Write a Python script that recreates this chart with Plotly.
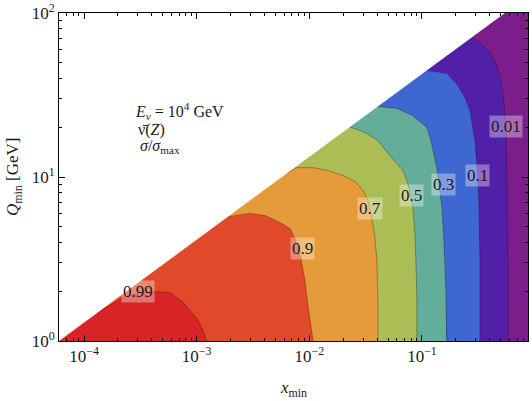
import math
import plotly.graph_objects as go

# Kinematic boundary (Q_max vs x)
boundary_x = [6.0e-5, 0.545]
boundary_q = [1.0, 100.0]

levels = [0.99, 0.9, 0.7, 0.5, 0.3, 0.1, 0.01]
level_labels = ["0.99", "0.9", "0.7", "0.5", "0.3", "0.1", "0.01"]

# contour lines, from the kinematic boundary down to Q=1
c099_x = [1.30e-4, 2.22e-4, 3.14e-4, 4.45e-4, 5.79e-4, 7.55e-4, 1.007e-3, 1.14e-3, 1.23e-3]
c099_q = [1.48, 1.84, 1.98, 2.00, 1.98, 1.72, 1.37, 1.16, 1.0]
c09_x = [1.90e-3, 2.97e-3, 4.04e-3, 5.48e-3, 6.73e-3, 7.60e-3, 8.41e-3, 9.14e-3, 9.72e-3, 1.03e-2, 1.08e-2]
c09_q = [5.73, 6.00, 5.83, 5.28, 4.86, 4.10, 3.19, 2.34, 1.65, 1.24, 1.0]
c07_x = [6.46e-3, 7.60e-3, 1.08e-2, 1.46e-2, 1.99e-2, 2.54e-2, 2.99e-2, 3.31e-2, 3.59e-2, 3.82e-2, 3.98e-2, 4.06e-2, 4.06e-2]
c07_q = [10.6, 11.4, 11.4, 10.97, 10.2, 9.40, 8.28, 7.20, 5.67, 4.28, 3.10, 1.77, 1.0]
c05_x = [2.29e-2, 3.11e-2, 4.06e-2, 5.19e-2, 6.76e-2, 7.50e-2, 8.30e-2, 8.65e-2, 8.83e-2, 9.01e-2, 9.01e-2]
c05_q = [20.2, 18.7, 16.7, 13.5, 10.97, 9.14, 6.52, 4.53, 3.10, 1.77, 1.0]
c03_x = [4.06e-2, 5.98e-2, 8.13e-2, 0.1104, 0.1199, 0.1355, 0.1503, 0.1564, 0.1630, 0.1663]
c03_q = [26.9, 26.2, 23.8, 20.1, 16.7, 11.4, 6.52, 4.10, 2.03, 1.0]
c01_x = [0.1104, 0.1663, 0.208, 0.240, 0.266, 0.283, 0.295, 0.307, 0.320, 0.327, 0.327]
c01_q = [44.7, 42.9, 36.2, 30.6, 25.5, 20.1, 16.7, 11.8, 7.20, 3.10, 1.0]
c001_x = [0.277, 0.327, 0.400, 0.462, 0.501, 0.533, 0.556, 0.568, 0.578, 0.578]
c001_q = [71.1, 66.2, 57.6, 48.0, 38.8, 29.3, 19.2, 9.53, 3.10, 1.0]

contours_x = [c099_x, c09_x, c07_x, c05_x, c03_x, c01_x, c001_x]
contours_q = [c099_q, c09_q, c07_q, c05_q, c03_q, c01_q, c001_q]

# label positions
label_x = [3.01e-4, 8.77e-3, 3.45e-2, 8.13e-2, 0.1564, 0.313, 0.556]
label_q = [2.00, 3.67, 6.43, 7.72, 9.01, 10.2, 20.4]

# tick values and labels
x_tickvals = [1e-4, 1e-3, 1e-2, 1e-1]
x_ticktext = ["10<sup>\u22124</sup>", "10<sup>\u22123</sup>", "10<sup>\u22122</sup>", "10<sup>\u22121</sup>"]
y_tickvals = [1, 10, 100]
y_ticktext = ["10<sup>0</sup>", "10<sup>1</sup>", "10<sup>2</sup>"]
x_minor = [m * 10.0 ** e for e in range(-5, 0) for m in range(2, 10)]
y_minor = [m * 10.0 ** e for e in range(0, 2) for m in range(2, 10)]

# band colours: index 0 -> above 0.99, ..., last -> below 0.01
band_colors = ["#d92427", "#e04a2a", "#e69b3a", "#abbd55", "#64ad9b", "#3f67d1", "#5220a8", "#7b1e8c"]

XLO, XHI = 1e-6, 10.0
QLO, QHI = 0.1, 1000.0

fig = go.Figure()

fig.add_trace(go.Scatter(x=[XLO, XHI, XHI, XLO, XLO], y=[QLO, QLO, QHI, QHI, QLO],
                         mode="lines", fill="toself", fillcolor=band_colors[-1],
                         line=dict(width=0), hoverinfo="skip", showlegend=False))

for i in range(len(levels) - 1, -1, -1):
    cx, cq = contours_x[i], contours_q[i]
    px = list(cx) + [cx[-1], XLO, XLO, cx[0], cx[0]]
    py = list(cq) + [QLO, QLO, QHI, QHI, cq[0]]
    fig.add_trace(go.Scatter(x=px, y=py, mode="lines", fill="toself",
                             fillcolor=band_colors[i], line=dict(width=0),
                             hoverinfo="skip", showlegend=False))

for i in range(len(levels)):
    fig.add_trace(go.Scatter(x=contours_x[i], y=contours_q[i], mode="lines",
                             line=dict(color="rgba(40,0,0,0.35)", width=0.9),
                             hoverinfo="skip", showlegend=False))

wx = [boundary_x[0], boundary_x[1], boundary_x[1], XLO, XLO, boundary_x[0]]
wq = [boundary_q[0], boundary_q[1], QHI, QHI, boundary_q[0], boundary_q[0]]
fig.add_trace(go.Scatter(x=wx, y=wq, mode="lines", fill="toself", fillcolor="white",
                         line=dict(width=0), hoverinfo="skip", showlegend=False))

FONT = "Liberation Serif"
TXT = "#1a1a1a"
for t, x, q in zip(level_labels, label_x, label_q):
    fig.add_annotation(x=math.log10(x), y=math.log10(q), text=t, showarrow=False,
                       font=dict(family=FONT, size=17, color=TXT),
                       bgcolor="rgba(255,255,255,0.35)", borderpad=1)

info_lines = ["<i>E</i><sub><i>ν</i></sub> = 10<sup>4</sup> GeV", "ν\u0304(<i>Z</i>)", "<i>σ</i>/<i>σ</i><sub>max</sub>"]
info_y = [0.700, 0.642, 0.593]
info_x = [0.158, 0.165, 0.168]
for t, x, y in zip(info_lines, info_x, info_y):
    fig.add_annotation(x=x, y=y, xref="paper", yref="paper", text=t, showarrow=False,
                       xanchor="left", yanchor="middle",
                       font=dict(family=FONT, size=16, color=TXT))

# axis titles
fig.add_annotation(x=0.5, y=-0.145, xref="paper", yref="paper", text="<i>x</i><sub>min</sub>",
                   showarrow=False, xanchor="center", yanchor="middle",
                   font=dict(family=FONT, size=17, color=TXT))
fig.add_annotation(x=-0.096, y=0.5, xref="paper", yref="paper", text="<i>Q</i><sub>min</sub> [GeV]",
                   showarrow=False, xanchor="center", yanchor="middle", textangle=-90,
                   font=dict(family=FONT, size=17, color=TXT))

axis_common = dict(type="log", showgrid=False, zeroline=False, showline=True,
                   linecolor="black", linewidth=1, mirror="allticks",
                   ticks="inside", ticklen=6, tickcolor="black", automargin=False,
                   tickfont=dict(family=FONT, size=17, color=TXT))

fig.update_xaxes(**axis_common, range=[-4.222, -0.059], tickmode="array",
                 tickvals=x_tickvals, ticktext=x_ticktext,
                 minor=dict(ticks="inside", ticklen=3, tickcolor="black", showgrid=False,
                            tickmode="array", tickvals=x_minor))
fig.update_yaxes(**axis_common, range=[0, 2], tickmode="array",
                 tickvals=y_tickvals, ticktext=y_ticktext,
                 minor=dict(ticks="inside", ticklen=3, tickcolor="black", showgrid=False,
                            tickmode="array", tickvals=y_minor))

fig.update_layout(width=532, height=401, plot_bgcolor="white", paper_bgcolor="white",
                  margin=dict(l=59, r=4, t=13, b=60, autoexpand=False), showlegend=False)

fig.write_html("out.html", config={"displayModeBar": False},
               post_script="document.body.style.margin='0';document.body.style.overflow='hidden';")
